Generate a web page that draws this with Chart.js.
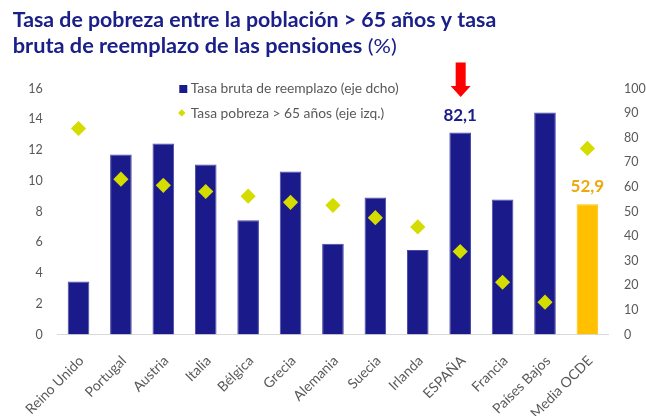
<!DOCTYPE html>
<html>
<head>
<meta charset="utf-8">
<script src="https://cdn.jsdelivr.net/npm/chart.js@4.4.1/dist/chart.umd.min.js"></script>
<style>
  html, body { margin: 0; padding: 0; background: #ffffff; }
  #wrap { position: relative; width: 646px; height: 416px; }
</style>
</head>
<body>
<div id="wrap"><canvas id="c" width="646" height="416"></canvas></div>
<script>
// ---- Data ----
const titleLine1 = 'Tasa de pobreza entre la población > 65 años y tasa';
const titleLine2Bold = 'bruta de reemplazo de las pensiones ';
const titleLine2Regular = '(%)';
const categories = ['Reino Unido', 'Portugal', 'Austria', 'Italia', 'Bélgica', 'Grecia', 'Alemania', 'Suecia', 'Irlanda', 'ESPAÑA', 'Francia', 'Países Bajos', 'Media OCDE'];
const replacementRate = [21.5, 73.2, 77.6, 69.1, 46.4, 66.3, 36.9, 55.7, 34.3, 82.1, 54.9, 90.2, 52.9];
const povertyRate = [13.4, 10.1, 9.7, 9.3, 9.0, 8.6, 8.4, 7.6, 7.0, 5.4, 3.4, 2.1, 12.1];
const leftTicks = [0, 2, 4, 6, 8, 10, 12, 14, 16];
const rightTicks = [0, 10, 20, 30, 40, 50, 60, 70, 80, 90, 100];
const seriesNames = ['Tasa bruta de reemplazo (eje dcho)', 'Tasa pobreza > 65 años (eje izq.)'];
const labelledBars = ['ESPAÑA', 'Media OCDE'];
const arrowBar = 'ESPAÑA';
const highlightBar = 'Media OCDE';

// ---- Styles ----
const NAVY = '#1A1A8B';
const ORANGE = '#FFC000';
const ORANGE_TEXT = '#EEA80C';
const LIME = '#D4DC00';
const GREY = '#595959';
const TITLE = '#1B2089';
const FONT = 'Lato, "Noto Sans", sans-serif';

const barColors = categories.map(c => c === highlightBar ? ORANGE : NAVY);
const barBorders = categories.map(c => c === highlightBar ? ORANGE : '#4848A6');

const decoPlugin = {
  id: 'deco',
  afterDraw(chart) {
    const ctx = chart.ctx;
    ctx.save();
    // Title
    ctx.fillStyle = TITLE;
    ctx.textBaseline = 'alphabetic';
    ctx.textAlign = 'left';
    ctx.font = 'bold 20px ' + FONT;
    const w1 = ctx.measureText(titleLine1).width;
    ctx.save();
    ctx.translate(12.7, 26.5);
    ctx.scale(483.5 / w1, 1);
    ctx.fillText(titleLine1, 0, 0);
    ctx.restore();
    ctx.font = 'bold 20px ' + FONT;
    const wb = ctx.measureText(titleLine2Bold).width;
    ctx.font = '20px ' + FONT;
    const wr = ctx.measureText(titleLine2Regular).width;
    ctx.save();
    ctx.translate(12.7, 52.5);
    ctx.scale(384 / (wb + wr), 1);
    ctx.font = 'bold 20px ' + FONT;
    ctx.fillText(titleLine2Bold, 0, 0);
    ctx.font = '20px ' + FONT;
    ctx.fillText(titleLine2Regular, wb, 0);
    ctx.restore();

    // Legend
    ctx.font = '13.8px ' + FONT;
    ctx.fillStyle = GREY;
    ctx.textBaseline = 'middle';
    ctx.fillText(chart.data.datasets[0].label, 190.8, 89);
    ctx.fillText(chart.data.datasets[1].label, 190.8, 114);
    ctx.fillStyle = NAVY;
    ctx.fillRect(179.3, 85, 8, 8);
    ctx.fillStyle = LIME;
    ctx.beginPath();
    ctx.moveTo(181.8, 109.2);
    ctx.lineTo(185.5, 112.9);
    ctx.lineTo(181.8, 116.6);
    ctx.lineTo(178.1, 112.9);
    ctx.closePath();
    ctx.fill();

    // Data labels & arrow
    const meta = chart.getDatasetMeta(0);
    labelledBars.forEach(name => {
      const i = categories.indexOf(name);
      const el = meta.data[i];
      ctx.font = 'bold 17px ' + FONT;
      ctx.textAlign = 'center';
      ctx.textBaseline = 'middle';
      ctx.fillStyle = name === highlightBar ? ORANGE_TEXT : NAVY;
      ctx.fillText(replacementRate[i].toFixed(1).replace('.', ','), el.x, el.y - 17.5);
    });
    const ia = categories.indexOf(arrowBar);
    const ea = meta.data[ia];
    const tipY = ea.y - 35.6;
    const ax = ea.x + 0.5;
    ctx.fillStyle = '#FF0000';
    ctx.beginPath();
    ctx.moveTo(ax - 5, tipY - 34.4);
    ctx.lineTo(ax + 5, tipY - 34.4);
    ctx.lineTo(ax + 5, tipY - 11);
    ctx.lineTo(ax + 10, tipY - 11);
    ctx.lineTo(ax, tipY);
    ctx.lineTo(ax - 10, tipY - 11);
    ctx.lineTo(ax - 5, tipY - 11);
    ctx.closePath();
    ctx.fill();
    ctx.restore();
  }
};

new Chart(document.getElementById('c'), {
  data: {
    labels: categories,
    datasets: [
      {
        type: 'bar',
        label: seriesNames[0],
        data: replacementRate,
        yAxisID: 'yR',
        backgroundColor: barColors,
        borderColor: barBorders,
        borderWidth: 1,
        borderSkipped: 'bottom',
        categoryPercentage: 1.0,
        barPercentage: 0.51,
        order: 2
      },
      {
        type: 'line',
        label: seriesNames[1],
        data: povertyRate,
        yAxisID: 'yL',
        showLine: false,
        pointStyle: 'rectRot',
        pointRadius: 7.6,
        pointBackgroundColor: LIME,
        pointBorderWidth: 0,
        pointBorderColor: LIME,
        order: 1
      }
    ]
  },
  options: {
    responsive: false,
    animation: false,
    events: [],
    layout: { padding: { top: 88.5, left: 0, right: 0, bottom: 0 } },
    plugins: {
      legend: { display: false },
      tooltip: { enabled: false },
      title: { display: false }
    },
    scales: {
      x: {
        type: 'category',
        grid: { display: false, drawTicks: false },
        border: { display: true, color: '#D9D9D9', width: 1 },
        ticks: {
          autoSkip: false,
          minRotation: 45,
          maxRotation: 45,
          padding: 18,
          labelOffset: 3,
          color: GREY,
          font: { family: FONT, size: 14 }
        },
        afterFit(s) { s.height = 81.5; }
      },
      yL: {
        type: 'linear',
        position: 'left',
        min: 0,
        max: 16,
        afterBuildTicks(s) { s.ticks = leftTicks.map(v => ({ value: v })); },
        grid: { display: false, drawTicks: false },
        border: { display: false },
        ticks: {
          padding: 14.6,
          color: GREY,
          font: { family: FONT, size: 12.5 }
        },
        afterFit(s) { s.width = 57.3; }
      },
      yR: {
        type: 'linear',
        position: 'right',
        min: 0,
        max: 100,
        afterBuildTicks(s) { s.ticks = rightTicks.map(v => ({ value: v })); },
        grid: { display: false, drawTicks: false },
        border: { display: false },
        ticks: {
          padding: 15.4,
          color: GREY,
          font: { family: FONT, size: 12.5 }
        },
        afterFit(s) { s.width = 37.4; }
      }
    }
  },
  plugins: [decoPlugin]
});
</script>
</body>
</html>
